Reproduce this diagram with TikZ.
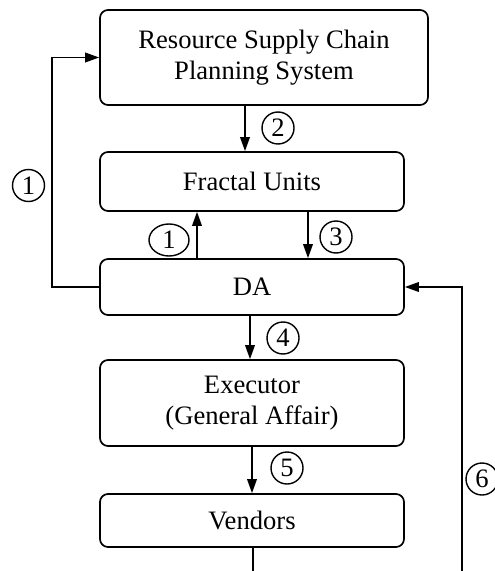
\documentclass[tikz,border=0pt]{standalone}
\usepackage{fontspec}
\setmainfont{Liberation Serif}
\usetikzlibrary{arrows.meta,shapes.geometric}
\begin{document}
\begin{tikzpicture}[x=0.5pt,y=-0.5pt,
  font=\fontsize{13.3}{15.5}\selectfont,
  box/.style={draw,line width=0.85pt,rounded corners=4pt,inner sep=0pt,align=center,minimum width=152pt},
  num/.style={draw,circle,line width=0.7pt,inner sep=0pt,minimum size=16pt},
  numel/.style={draw,ellipse,line width=0.7pt,inner sep=0pt,minimum width=20pt,minimum height=16pt},
  arr/.style={line width=0.85pt,-{Triangle[length=7pt,width=4.8pt]}},
  ln/.style={line width=0.85pt}]
\useasboundingbox (0,0) rectangle (494,571);
\node[box,minimum width=164pt,minimum height=47.5pt] (rs) at (264,57.5) {Resource Supply Chain\\Planning System};
\node[box,minimum height=29.5pt] (fu) at (252,181.5) {Fractal Units};
\node[box,minimum height=28pt] (da) at (252,287) {DA};
\node[box,minimum height=43pt] (ex) at (252,403) {Executor\\(General Affair)};
\node[box,minimum height=26.5pt] (ve) at (252,520.5) {Vendors};
% circled numbers
\node[num] (c2) at (278,128) {2};
\node[num] (c1a) at (28.5,185.5) {1};
\node[numel] (c1b) at (169,240) {1};
\node[num] (c3) at (336,237) {3};
\node[num] (c4) at (283,338) {4};
\node[num] (c5) at (287,468) {5};
\node[num] (c6) at (482,479) {6};
% coordinates
\coordinate (lx) at (52,0);
\coordinate (rx) at (462,0);
\coordinate (vb) at (253,571);
\coordinate (rb) at (462,571);
% connectors
\draw[arr] (rs.south -| 245,0) -- (fu.north -| 245,0);
\draw[arr] (da.north -| 197,0) -- (fu.south -| 197,0);
\draw[arr] (fu.south -| 308,0) -- (da.north -| 308,0);
\draw[arr] (da.west) -- (da.west -| lx) -- (rs.west -| lx) -- (rs.west);
\draw[arr] (da.south -| 250,0) -- (ex.north -| 250,0);
\draw[arr] (ex.south -| 252,0) -- (ve.north -| 252,0);
\draw[ln] (ve.south -| vb) -- (vb);
\draw[arr] (rb) -- (da.east -| rx) -- (da.east);
\end{tikzpicture}
\end{document}
